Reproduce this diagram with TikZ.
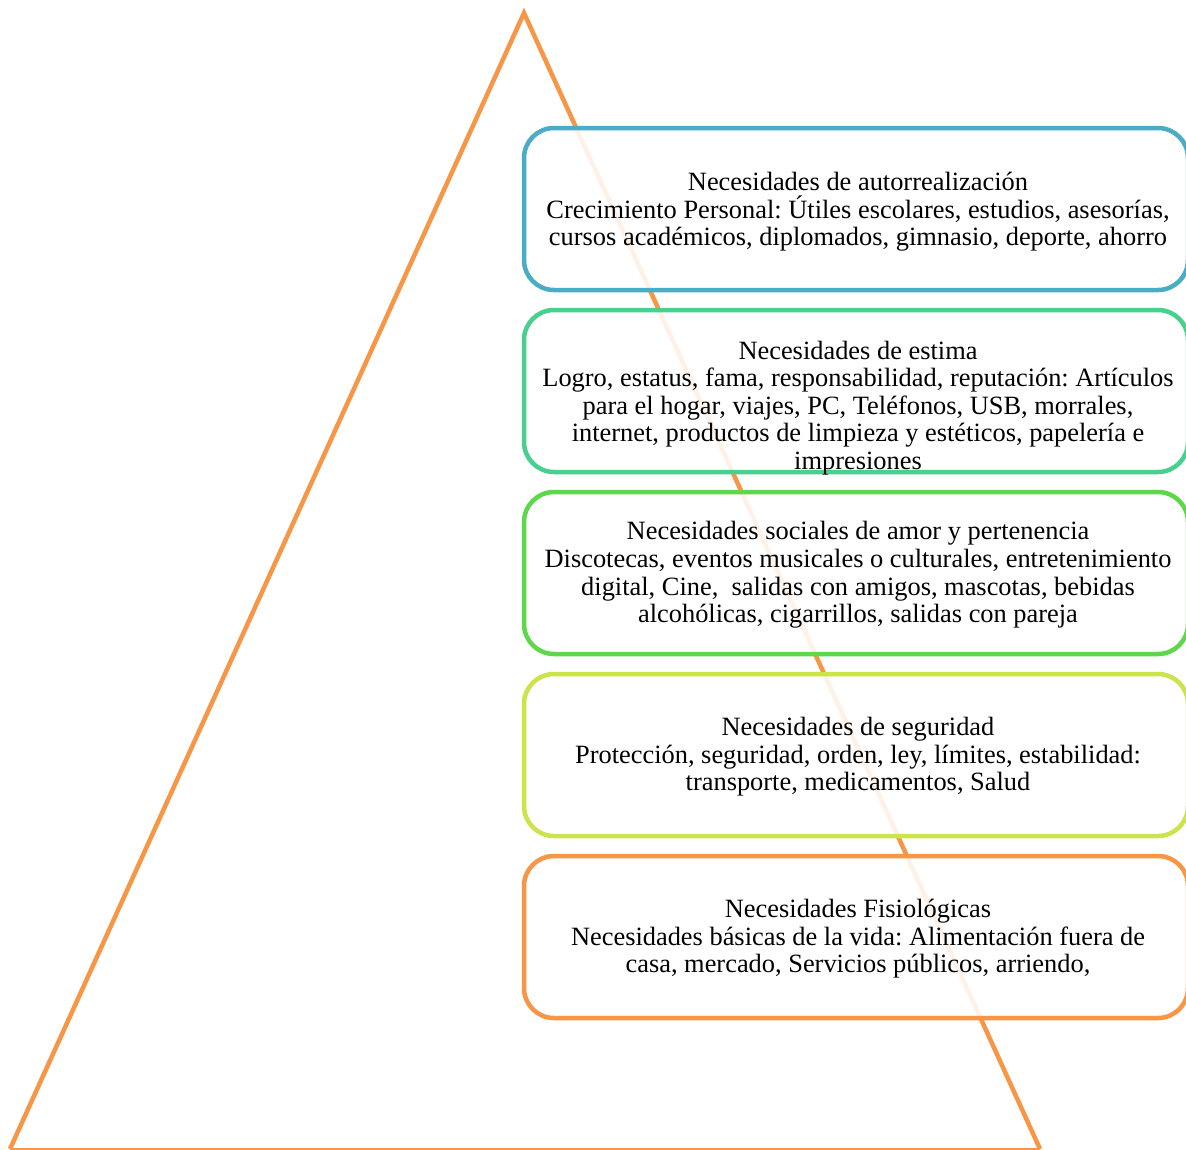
\documentclass[tikz,border=0pt]{standalone}
\usepackage{fontspec}
\setmainfont{Liberation Serif}
\frenchspacing
\definecolor{triorange}{HTML}{F79646}
\definecolor{cblue}{HTML}{4BACC6}
\definecolor{cteal}{HTML}{48D08E}
\definecolor{cgreen}{HTML}{5ED84A}
\definecolor{clime}{HTML}{CDE34B}
\definecolor{corange}{HTML}{F79646}
\begin{document}
\begin{tikzpicture}[x=1pt,y=-1pt,
  levelbox/.style={draw, line width=4.5pt, rounded corners=30pt, fill=white, fill opacity=0.88,
    minimum width=664pt, minimum height=162pt, inner sep=0pt},
  leveltext/.style={align=center, font=\fontsize{26.4}{27.6}\selectfont\frenchspacing, inner sep=0pt, text=black}]
\useasboundingbox (0,0) rectangle (1186,1149);
\fill[white] (0,0) rectangle (1186,1149);
\coordinate (apex) at (524,13);
\coordinate (bl) at (10,1149);
\coordinate (br) at (1040,1149);
\draw[triorange, line width=4.5pt, line join=miter] (bl) -- (apex) -- (br);
\draw[triorange, line width=2pt] (bl) -- (br);
\node[levelbox, draw=cblue] (b1) at (856,209) {};
\node[levelbox, draw=cteal] (b2) at (856,391) {};
\node[levelbox, draw=cgreen] (b3) at (856,573) {};
\node[levelbox, draw=clime] (b4) at (856,755) {};
\node[levelbox, draw=corange] (b5) at (856,937) {};
\node[leveltext] (t1) at (858,212) {Necesidades de autorrealización\\Crecimiento Personal: Útiles escolares, estudios, asesorías,\\cursos académicos, diplomados, gimnasio, deporte, ahorro};
\node[leveltext] (t2) at (858,408) {Necesidades de estima\\Logro, estatus, fama, responsabilidad, reputación: Artículos\\para el hogar, viajes, PC, Teléfonos, USB, morrales,\\internet, productos de limpieza y estéticos, papelería e\\impresiones};
\node[leveltext] (t3) at (858,575) {Necesidades sociales de amor y pertenencia\\Discotecas, eventos musicales o culturales, entretenimiento\\digital, Cine,\ \ salidas con amigos, mascotas, bebidas\\alcohólicas, cigarrillos, salidas con pareja};
\node[leveltext] (t4) at (858,757) {Necesidades de seguridad\\Protección, seguridad, orden, ley, límites, estabilidad:\\transporte, medicamentos, Salud};
\node[leveltext] (t5) at (858,939) {Necesidades Fisiológicas\\Necesidades básicas de la vida: Alimentación fuera de\\casa, mercado, Servicios públicos, arriendo,};
\end{tikzpicture}
\end{document}
